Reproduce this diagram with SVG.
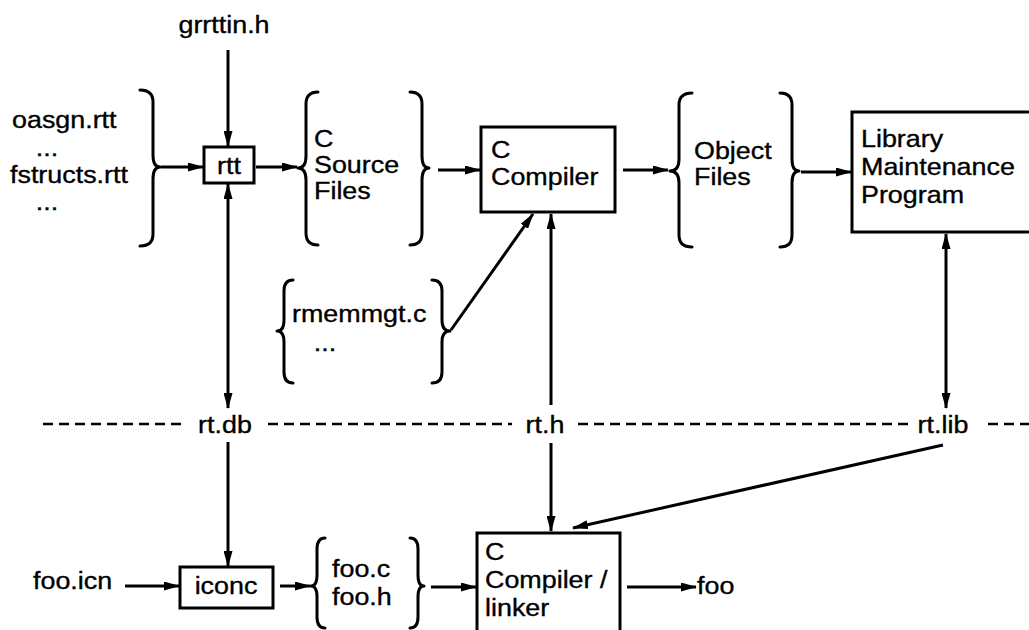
<svg xmlns="http://www.w3.org/2000/svg" width="1029" height="630" viewBox="0 0 1029 630">
<defs>
<marker id="ah" markerUnits="userSpaceOnUse" markerWidth="16" markerHeight="9" refX="15" refY="4.5" orient="auto-start-reverse">
<path d="M0,0 L16,4.5 L0,9 z" fill="#000"/>
</marker>
<style>
.t{font-family:"Liberation Sans",Arial,sans-serif;font-size:24px;fill:#000;stroke:#000;stroke-width:0.35}
.m{text-anchor:middle}
.box{fill:none;stroke:#000;stroke-width:3}
.br{fill:none;stroke:#000;stroke-width:3;stroke-linecap:round;stroke-linejoin:round}
.c{fill:none;stroke:#000;stroke-width:3}
.a{marker-end:url(#ah)}
.aa{marker-start:url(#ah);marker-end:url(#ah)}
.d{fill:none;stroke:#000;stroke-width:2.5;stroke-dasharray:10 6}
</style>
</defs>
<rect width="1029" height="630" fill="#fff"/>

<g id="dashed-line">
<line class="d" x1="43" y1="424" x2="183" y2="424"/>
<line class="d" x1="268" y1="424" x2="512" y2="424"/>
<line class="d" x1="578" y1="424" x2="908" y2="424"/>
<line class="d" x1="988" y1="424" x2="1029" y2="424"/>
</g>

<g id="connectors">
<line class="c a" x1="228" y1="50" x2="228" y2="146"/>
<line class="c a" x1="161" y1="167" x2="203" y2="167"/>
<line class="c a" x1="256" y1="167" x2="297" y2="167"/>
<line class="c a" x1="438" y1="170" x2="480" y2="170"/>
<line class="c a" x1="623" y1="170" x2="668" y2="170"/>
<line class="c a" x1="801" y1="172" x2="851" y2="172"/>
<line class="c a" x1="451" y1="330" x2="533" y2="214"/>
<line class="c a" x1="551" y1="405" x2="551" y2="214"/>
<line class="c aa" x1="946" y1="234" x2="946" y2="408"/>
<line class="c aa" x1="228" y1="184" x2="228" y2="408"/>
<line class="c a" x1="228" y1="442" x2="228" y2="566"/>
<line class="c a" x1="551" y1="443" x2="551" y2="531"/>
<line class="c a" x1="943" y1="445" x2="573" y2="528"/>
<line class="c a" x1="125" y1="586" x2="179" y2="586"/>
<line class="c a" x1="280" y1="586" x2="310" y2="586"/>
<line class="c a" x1="431" y1="587" x2="476" y2="587"/>
<line class="c a" x1="627" y1="587" x2="696" y2="587"/>
</g>

<g id="grrttin">
<text class="t m" transform="translate(224,33) scale(1.12,1)">grrttin.h</text>
</g>

<g id="rtt-inputs">
<text class="t" transform="translate(12,128) scale(1.12,1)">oasgn.rtt</text>
<text class="t m" transform="translate(47,156) scale(1.12,1)">...</text>
<text class="t" transform="translate(10,183) scale(1.12,1)">fstructs.rtt</text>
<text class="t m" transform="translate(47,210) scale(1.12,1)">...</text>
<path class="br" d="M140,90 Q153,90 153,102 L153,155 Q153,167 160,167 Q153,167 153,179 L153,234 Q153,246 140,246"/>
</g>

<g id="rtt">
<rect class="box" x="204" y="147" width="50" height="36"/>
<text class="t m" transform="translate(229,174) scale(1.12,1)">rtt</text>
</g>

<g id="c-source-files">
<path class="br" d="M318,92 Q306,92 306,104 L306,156 Q306,168 298,168 Q306,168 306,180 L306,233 Q306,245 318,245"/>
<text class="t" transform="translate(314,147) scale(1.12,1)"><tspan x="0" y="0">C</tspan><tspan x="0" y="26">Source</tspan><tspan x="0" y="52">Files</tspan></text>
<path class="br" d="M410,92 Q422,92 422,104 L422,156 Q422,168 429,168 Q422,168 422,180 L422,233 Q422,245 410,245"/>
</g>

<g id="c-compiler">
<rect class="box" x="481" y="127" width="134" height="85"/>
<text class="t" transform="translate(491,158) scale(1.12,1)"><tspan x="0" y="0">C</tspan><tspan x="0" y="27">Compiler</tspan></text>
</g>

<g id="object-files">
<path class="br" d="M692,93 Q679,93 679,105 L679,159 Q679,171 670,171 Q679,171 679,183 L679,235 Q679,247 692,247"/>
<text class="t" transform="translate(694,159) scale(1.12,1)"><tspan x="0" y="0">Object</tspan><tspan x="0" y="26">Files</tspan></text>
<path class="br" d="M780,93 Q792,93 792,105 L792,159 Q792,171 799,171 Q792,171 792,183 L792,235 Q792,247 780,247"/>
</g>

<g id="library-maintenance">
<rect class="box" x="852" y="112" width="200" height="120"/>
<text class="t" transform="translate(861,147) scale(1.12,1)"><tspan x="0" y="0">Library</tspan><tspan x="0" y="28">Maintenance</tspan><tspan x="0" y="56">Program</tspan></text>
</g>

<g id="rmemmgt">
<path class="br" d="M293,280 Q284,280 284,291 L284,320 Q284,331 277,331 Q284,331 284,342 L284,372 Q284,383 293,383"/>
<text class="t" transform="translate(292,322) scale(1.12,1)">rmemmgt.c</text>
<text class="t m" transform="translate(325,351) scale(1.12,1)">...</text>
<path class="br" d="M432,280 Q442,280 442,291 L442,320 Q442,331 450,331 Q442,331 442,342 L442,372 Q442,383 432,383"/>
</g>

<g id="rt-db"><text class="t m" transform="translate(225,433) scale(1.12,1)">rt.db</text></g>
<g id="rt-h"><text class="t m" transform="translate(545,433) scale(1.12,1)">rt.h</text></g>
<g id="rt-lib"><text class="t m" transform="translate(943,433) scale(1.12,1)">rt.lib</text></g>

<g id="foo-icn"><text class="t" transform="translate(33,589) scale(1.12,1)">foo.icn</text></g>

<g id="iconc">
<rect class="box" x="180" y="567" width="93" height="41"/>
<text class="t m" transform="translate(226,594) scale(1.12,1)">iconc</text>
</g>

<g id="foo-c-h">
<path class="br" d="M325,538 Q317,538 317,549 L317,575 Q317,586 311,586 Q317,586 317,597 L317,617 Q317,628 325,628"/>
<text class="t" transform="translate(332,577) scale(1.12,1)"><tspan x="0" y="0">foo.c</tspan><tspan x="0" y="28">foo.h</tspan></text>
<path class="br" d="M410,538 Q418,538 418,549 L418,575 Q418,586 424,586 Q418,586 418,597 L418,617 Q418,628 410,628"/>
</g>

<g id="c-compiler-linker">
<rect class="box" x="477" y="533" width="143" height="110"/>
<text class="t" transform="translate(485,560) scale(1.12,1)"><tspan x="0" y="0">C</tspan><tspan x="0" y="28">Compiler /</tspan><tspan x="0" y="56">linker</tspan></text>
</g>

<g id="foo"><text class="t" transform="translate(697,594) scale(1.12,1)">foo</text></g>
</svg>
